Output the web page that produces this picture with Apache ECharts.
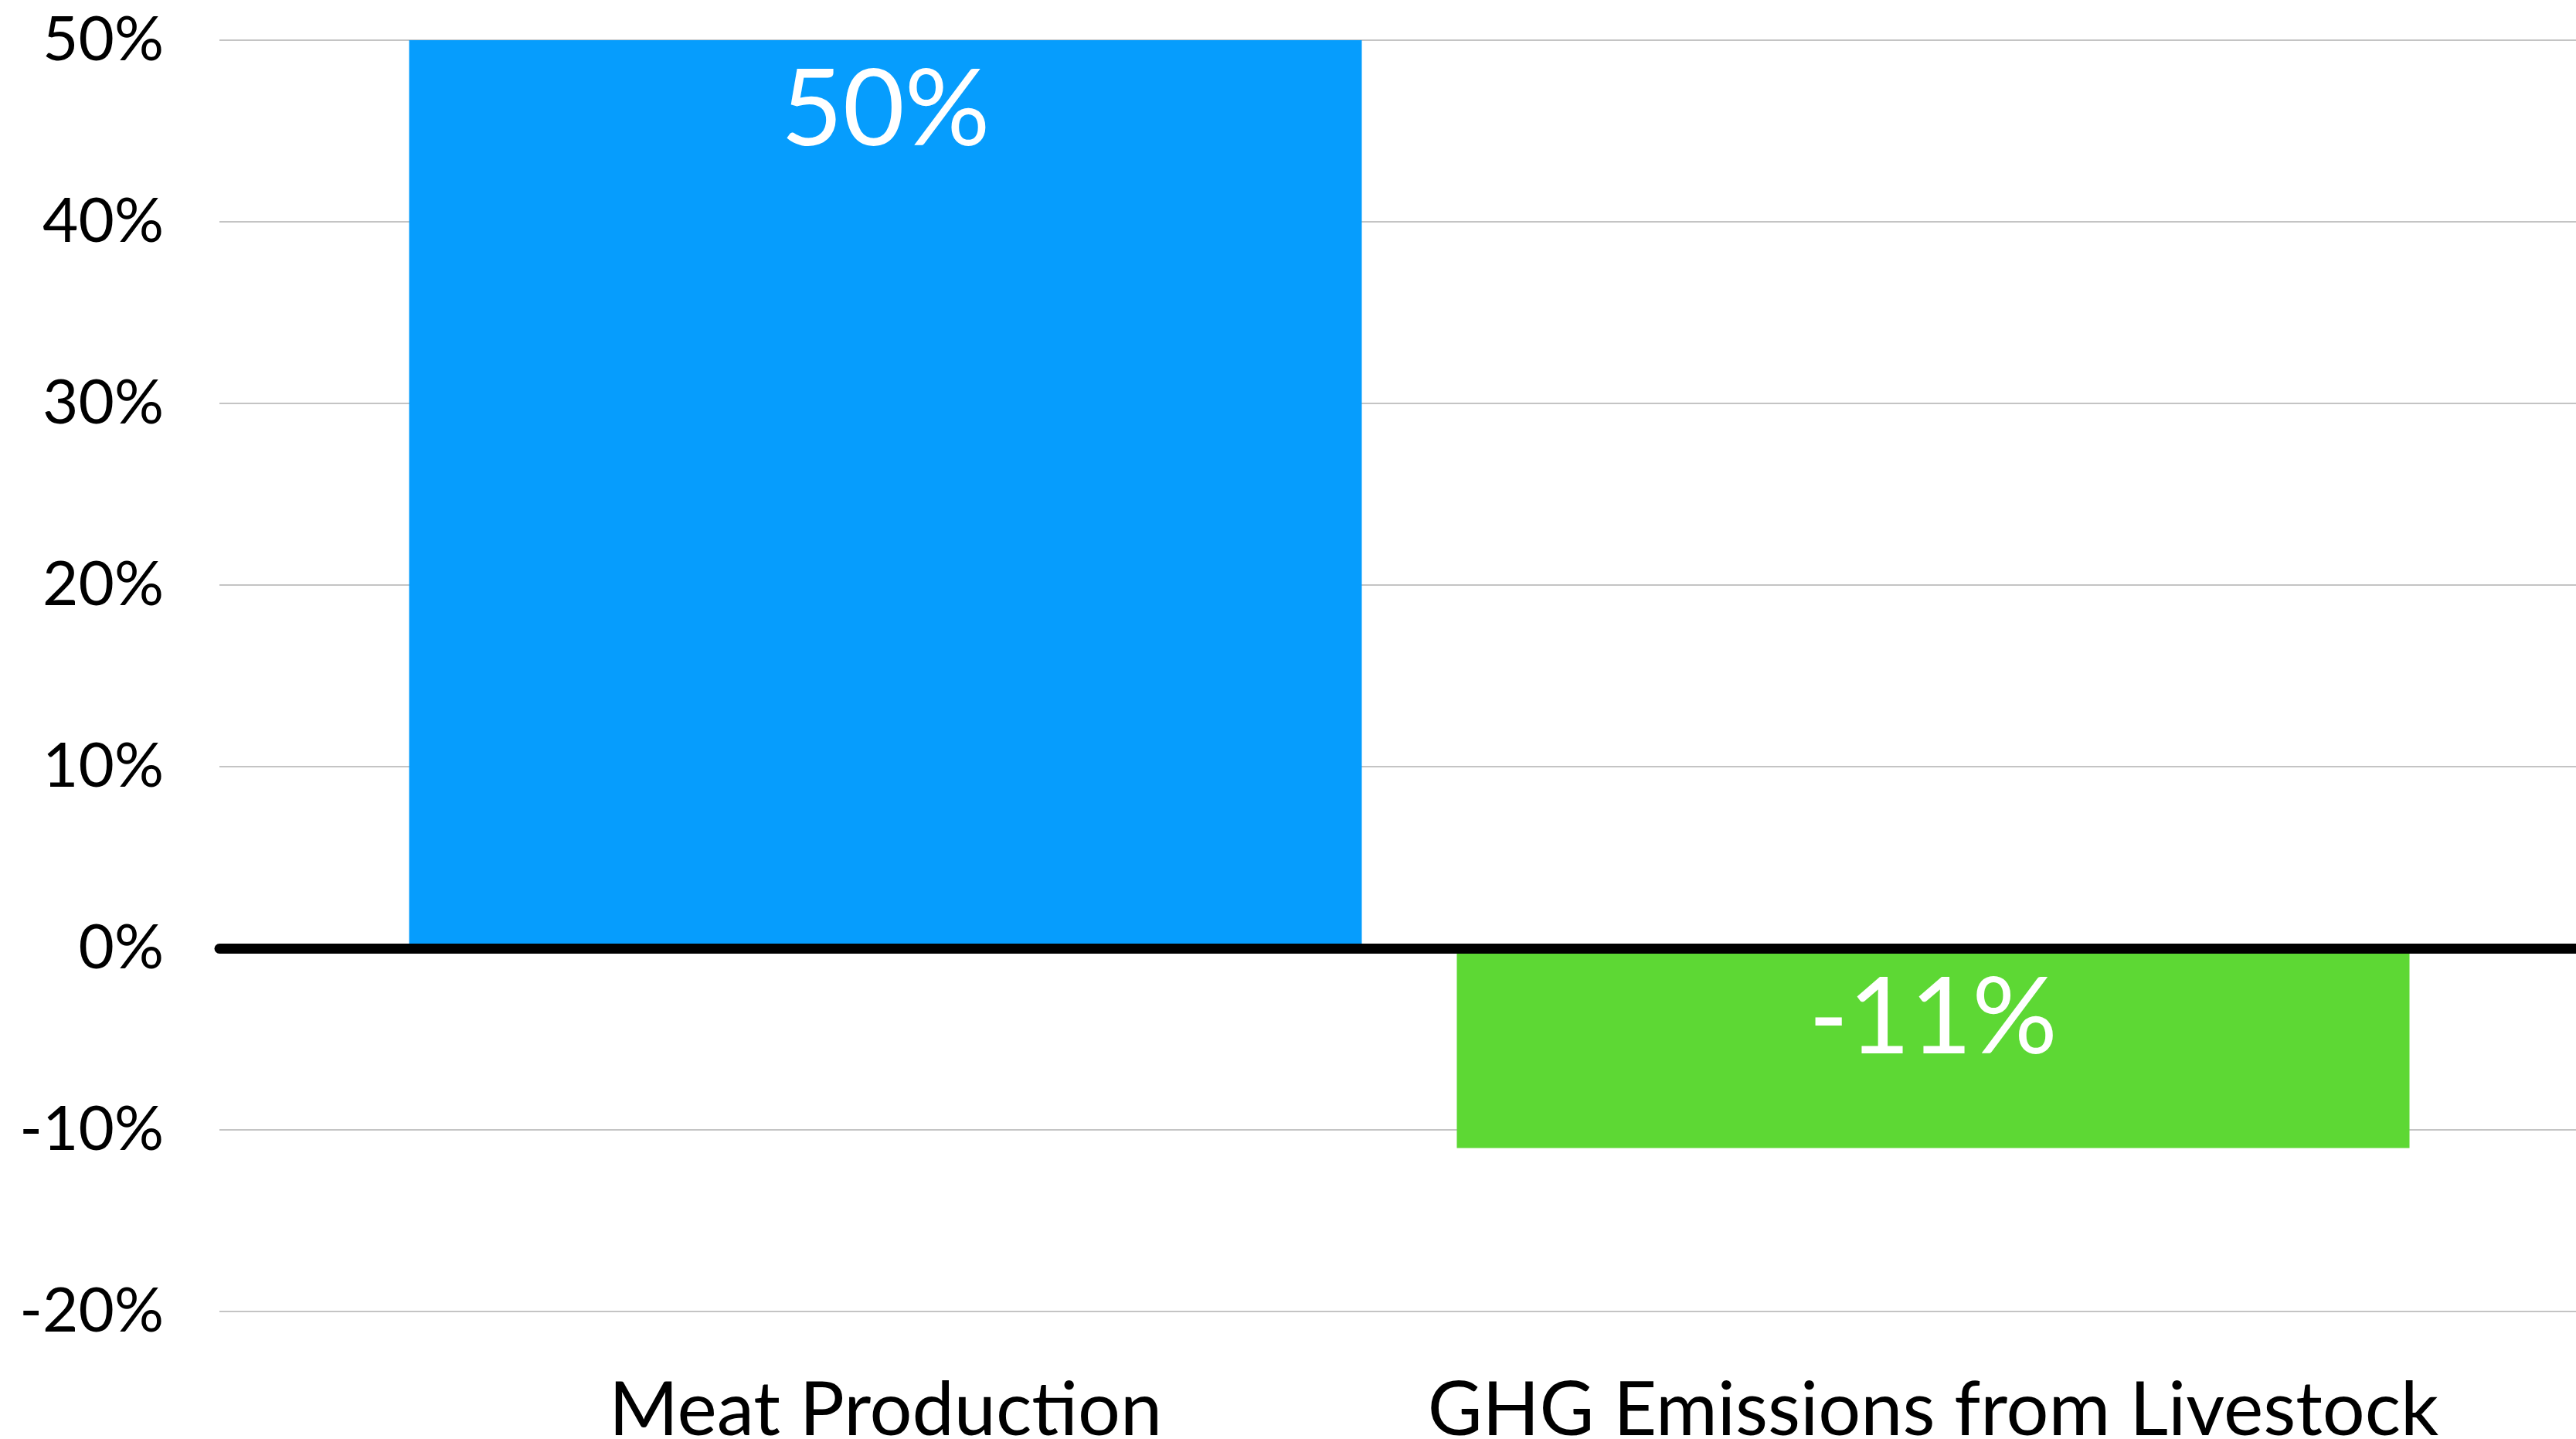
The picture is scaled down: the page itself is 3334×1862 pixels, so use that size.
<!DOCTYPE html>
<html>
<head>
<meta charset="utf-8">
<script src="https://cdn.jsdelivr.net/npm/echarts@6/dist/echarts.min.js"></script>
<style>
  html, body { margin: 0; padding: 0; background: #ffffff; }
  #chart { width: 3334px; height: 1862px; }
</style>
</head>
<body>
<div id="chart"></div>
<script>
// Percentage change by category
const categories = ['Meat Production', 'GHG Emissions from Livestock'];
const changePct = [50, -11];
const barColors = ['#069DFD', '#5DD834'];

// Value axis range (percent)
const yMin = -20;
const yMax = 50;
const yStep = 10;

const FONT = 'Lato, "Noto Sans", sans-serif';

const chart = echarts.init(document.getElementById('chart'), null, { renderer: 'canvas' });

const barData = changePct.map((v, i) => ({
  value: v,
  itemStyle: { color: barColors[i] }
}));

chart.setOption({
  animation: false,
  backgroundColor: '#ffffff',
  grid: [
    // full-width grid: value labels, grid lines and the zero line
    { left: 284, right: 0, top: 52, bottom: 165, outerBoundsMode: 'none', containLabel: false },
    // bar grid: categories and bars
    { left: 468, width: 2712, top: 52, bottom: 165, outerBoundsMode: 'none', containLabel: false }
  ],
  xAxis: [
    {
      gridIndex: 0,
      type: 'value',
      min: 0,
      max: 1,
      z: 10,
      axisLine: { show: true, onZero: true, lineStyle: { color: '#000000', width: 13 } },
      axisTick: { show: false },
      axisLabel: { show: false },
      splitLine: { show: false }
    },
    {
      gridIndex: 1,
      type: 'category',
      data: categories,
      axisLine: { show: false, onZero: false },
      axisTick: { show: false },
      axisLabel: {
        color: '#000000',
        fontFamily: FONT,
        fontSize: 97,
        margin: 80,
        interval: 0
      }
    }
  ],
  yAxis: [
    {
      gridIndex: 0,
      type: 'value',
      min: yMin,
      max: yMax,
      interval: yStep,
      axisLine: { show: false },
      axisTick: { show: false },
      axisLabel: {
        formatter: '{value}%',
        color: '#000000',
        fontFamily: FONT,
        fontSize: 80,
        margin: 72
      },
      splitLine: { show: true, lineStyle: { color: '#c4c4c4', width: 2 } }
    },
    {
      gridIndex: 1,
      type: 'value',
      min: yMin,
      max: yMax,
      interval: yStep,
      show: false
    }
  ],
  series: [
    {
      type: 'bar',
      xAxisIndex: 1,
      yAxisIndex: 1,
      data: barData,
      barWidth: 1233,
      label: {
        show: true,
        position: 'insideTop',
        distance: 22,
        color: '#ffffff',
        fontFamily: FONT,
        fontSize: 138,
        formatter: (p) => p.value + '%'
      }
    }
  ]
});
</script>
</body>
</html>
